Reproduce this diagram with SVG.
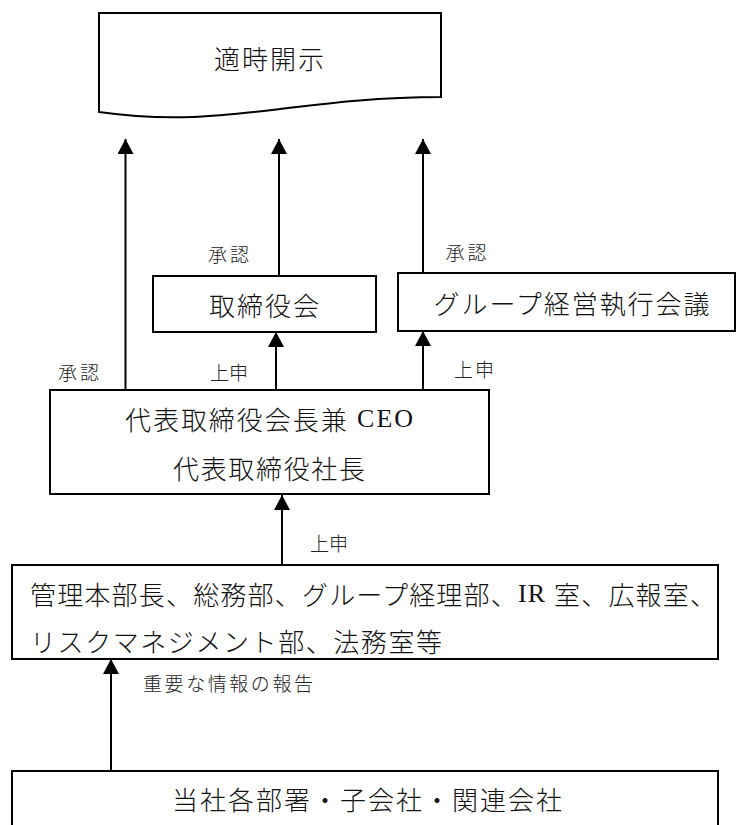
<svg xmlns="http://www.w3.org/2000/svg" width="736" height="825" viewBox="0 0 736 825">
<style>
.box{fill:#fff;stroke:#000;stroke-width:2}
.t{font-family:"Noto Sans CJK JP","Liberation Sans",sans-serif;font-size:26px;font-weight:300;fill:#111;dominant-baseline:central}
.s{font-family:"Noto Sans CJK JP","Liberation Sans",sans-serif;font-size:19px;font-weight:300;fill:#222;dominant-baseline:central;text-anchor:middle}
.m{text-anchor:middle}
.lat{font-family:"Liberation Serif",serif}
.c{stroke:#000;stroke-width:2;fill:none;marker-end:url(#ah)}
</style>
<defs>
<marker id="ah" viewBox="0 0 15 16" refX="15" refY="8" markerWidth="15" markerHeight="16" markerUnits="userSpaceOnUse" orient="auto">
<path d="M0,0 L15,8 L0,16 Z" fill="#000"/>
</marker>
</defs>
<rect width="736" height="825" fill="#fff"/>
<g id="connectors">
<line class="c" x1="125.5" y1="390" x2="125.5" y2="139"/>
<line class="c" x1="279" y1="276" x2="279" y2="139"/>
<line class="c" x1="423" y1="273" x2="423" y2="139"/>
<line class="c" x1="276" y1="390" x2="276" y2="332"/>
<line class="c" x1="423" y1="390" x2="423" y2="331"/>
<line class="c" x1="282" y1="565" x2="282" y2="495"/>
<line class="c" x1="111" y1="771" x2="111" y2="659"/>
<text class="s" x="228.5" y="253" textLength="41">承認</text>
<text class="s" x="466" y="251" textLength="41">承認</text>
<text class="s" x="78.5" y="371" textLength="41">承認</text>
<text class="s" x="229" y="371" textLength="38">上申</text>
<text class="s" x="474" y="368" textLength="40">上申</text>
<text class="s" x="329" y="542" textLength="38">上申</text>
<text class="s" x="228" y="682" textLength="170">重要な情報の報告</text>
</g>
<g id="disclosure">
<path class="box" d="M99,13 H441 V97 C380,97 330,103 280,109 C220,116 170,122 99,112 Z"/>
<text class="t m" x="269" y="57" textLength="110">適時開示</text>
</g>
<g id="board">
<rect class="box" x="153" y="276" width="223" height="56"/>
<text class="t m" x="264" y="304" textLength="110">取締役会</text>
</g>
<g id="group-exec">
<rect class="box" x="398" y="273" width="337" height="58"/>
<text class="t m" x="571.5" y="302" textLength="276">グループ経営執行会議</text>
</g>
<g id="ceo">
<rect class="box" x="50" y="390" width="439" height="104"/>
<text class="t m" x="269" y="418" textLength="288">代表取締役会長兼<tspan class="lat"> CEO</tspan></text>
<text class="t m" x="269" y="467" textLength="192">代表取締役社長</text>
</g>
<g id="admin">
<rect class="box" x="12" y="565" width="706" height="94"/>
<text class="t" x="30" y="593" textLength="686">管理本部長、総務部、グループ経理部、<tspan class="lat">IR </tspan>室、広報室、</text>
<text class="t" x="30" y="640" textLength="412">リスクマネジメント部、法務室等</text>
</g>
<g id="affiliates">
<rect class="box" x="12" y="771" width="706" height="80"/>
<text class="t m" x="367" y="798" textLength="390">当社各部署・子会社・関連会社</text>
</g>
</svg>
